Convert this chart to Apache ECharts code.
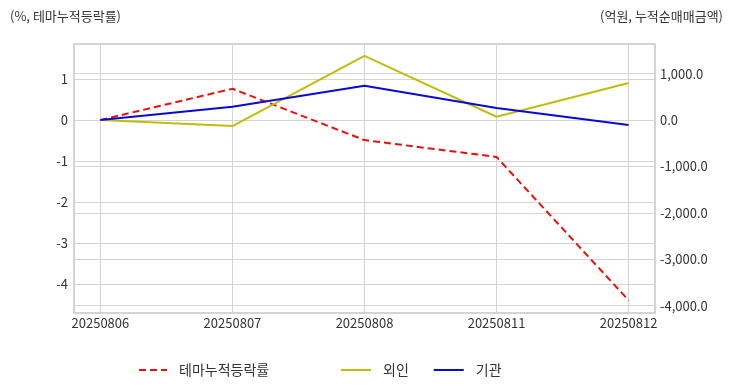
<!DOCTYPE html>
<html><head><meta charset="utf-8">
<script src="https://cdn.jsdelivr.net/npm/echarts@6/dist/echarts.min.js"></script>
<style>html,body{margin:0;padding:0;background:#fff}#c{width:732px;height:392px}</style>
</head><body><div id="c"></div>
<script>
const categories = ['20250806','20250807','20250808','20250811','20250812'];
const themeRate = [0, 0.76, -0.49, -0.90, -4.39];
const foreign = [0, -130, 1382, 71, 799];
const institution = [0, 287, 741, 259, -108];
const leftTicks = [-4, -3, -2, -1, 0, 1];
const rightTicks = [-4000, -3000, -2000, -1000, 0, 1000];
const xTicks = categories.map((c, i) => i);

const FONT = '"Noto Sans CJK KR", "Noto Sans", sans-serif';
const pairs = arr => arr.map((v, i) => [i, v]);
const chart = echarts.init(document.getElementById('c'), null, {renderer: 'canvas'});
const legendText = {fontSize: 14, color: '#333', fontFamily: FONT, padding: [0, 0, 0, 7]};
chart.setOption({
  animation: false,
  textStyle: {fontFamily: FONT},
  title: [
    {text: '(%, 테마누적등락률)', left: 5, top: 5, textStyle: {fontSize: 13, fontWeight: 'normal', color: '#333', fontFamily: FONT}},
    {text: '(억원, 누적순매매금액)', right: 4, top: 5, textStyle: {fontSize: 13, fontWeight: 'normal', color: '#333', fontFamily: FONT}}
  ],
  grid: {left: 74, right: 77, top: 44, bottom: 79, show: true, borderColor: '#d4d4d4', borderWidth: 2, backgroundColor: 'transparent'},
  legend: [
    {data: ['테마누적등락률'], left: 133, top: 358, itemWidth: 28, itemHeight: 14, itemGap: 28,
     itemStyle: {opacity: 0}, textStyle: legendText},
    {data: ['외인', '기관'], left: 335, top: 358, itemWidth: 30, itemHeight: 14, itemGap: 24,
     itemStyle: {opacity: 0}, textStyle: legendText}
  ],
  xAxis: {
    type: 'value', min: -0.2, max: 4.2,
    axisLine: {show: false}, axisTick: {show: false, customValues: xTicks},
    axisLabel: {customValues: xTicks, formatter: v => categories[Math.round(v)], fontSize: 13, color: '#333', margin: 4},
    splitLine: {show: true, lineStyle: {color: '#d4d4d4', width: 1}}
  },
  yAxis: [
    {type: 'value', min: -4.7, max: 1.85, position: 'left',
     axisLine: {show: false}, axisTick: {show: false, customValues: leftTicks},
     axisLabel: {customValues: leftTicks, fontSize: 13, color: '#333', margin: 6, formatter: v => String(v)},
     splitLine: {show: true, lineStyle: {color: '#d4d4d4', width: 1}}},
    {type: 'value', min: -4160, max: 1640, position: 'right',
     axisLine: {show: false}, axisTick: {show: false, customValues: rightTicks},
     axisLabel: {customValues: rightTicks, fontSize: 13, color: '#333', margin: 5,
       formatter: v => v.toLocaleString('en-US', {minimumFractionDigits: 1, maximumFractionDigits: 1})},
     splitLine: {show: true, lineStyle: {color: '#d4d4d4', width: 1}}}
  ],
  series: [
    {name: '테마누적등락률', type: 'line', yAxisIndex: 0, data: pairs(themeRate), symbol: 'none',
     lineStyle: {color: '#e8100c', width: 2, type: [7, 4]}, itemStyle: {color: '#e8100c'}},
    {name: '외인', type: 'line', yAxisIndex: 1, data: pairs(foreign), symbol: 'none',
     lineStyle: {color: '#c4bc0c', width: 2}, itemStyle: {color: '#c4bc0c'}},
    {name: '기관', type: 'line', yAxisIndex: 1, data: pairs(institution), symbol: 'none',
     lineStyle: {color: '#0a0ad2', width: 2}, itemStyle: {color: '#0a0ad2'}}
  ]
});
</script></body></html>
